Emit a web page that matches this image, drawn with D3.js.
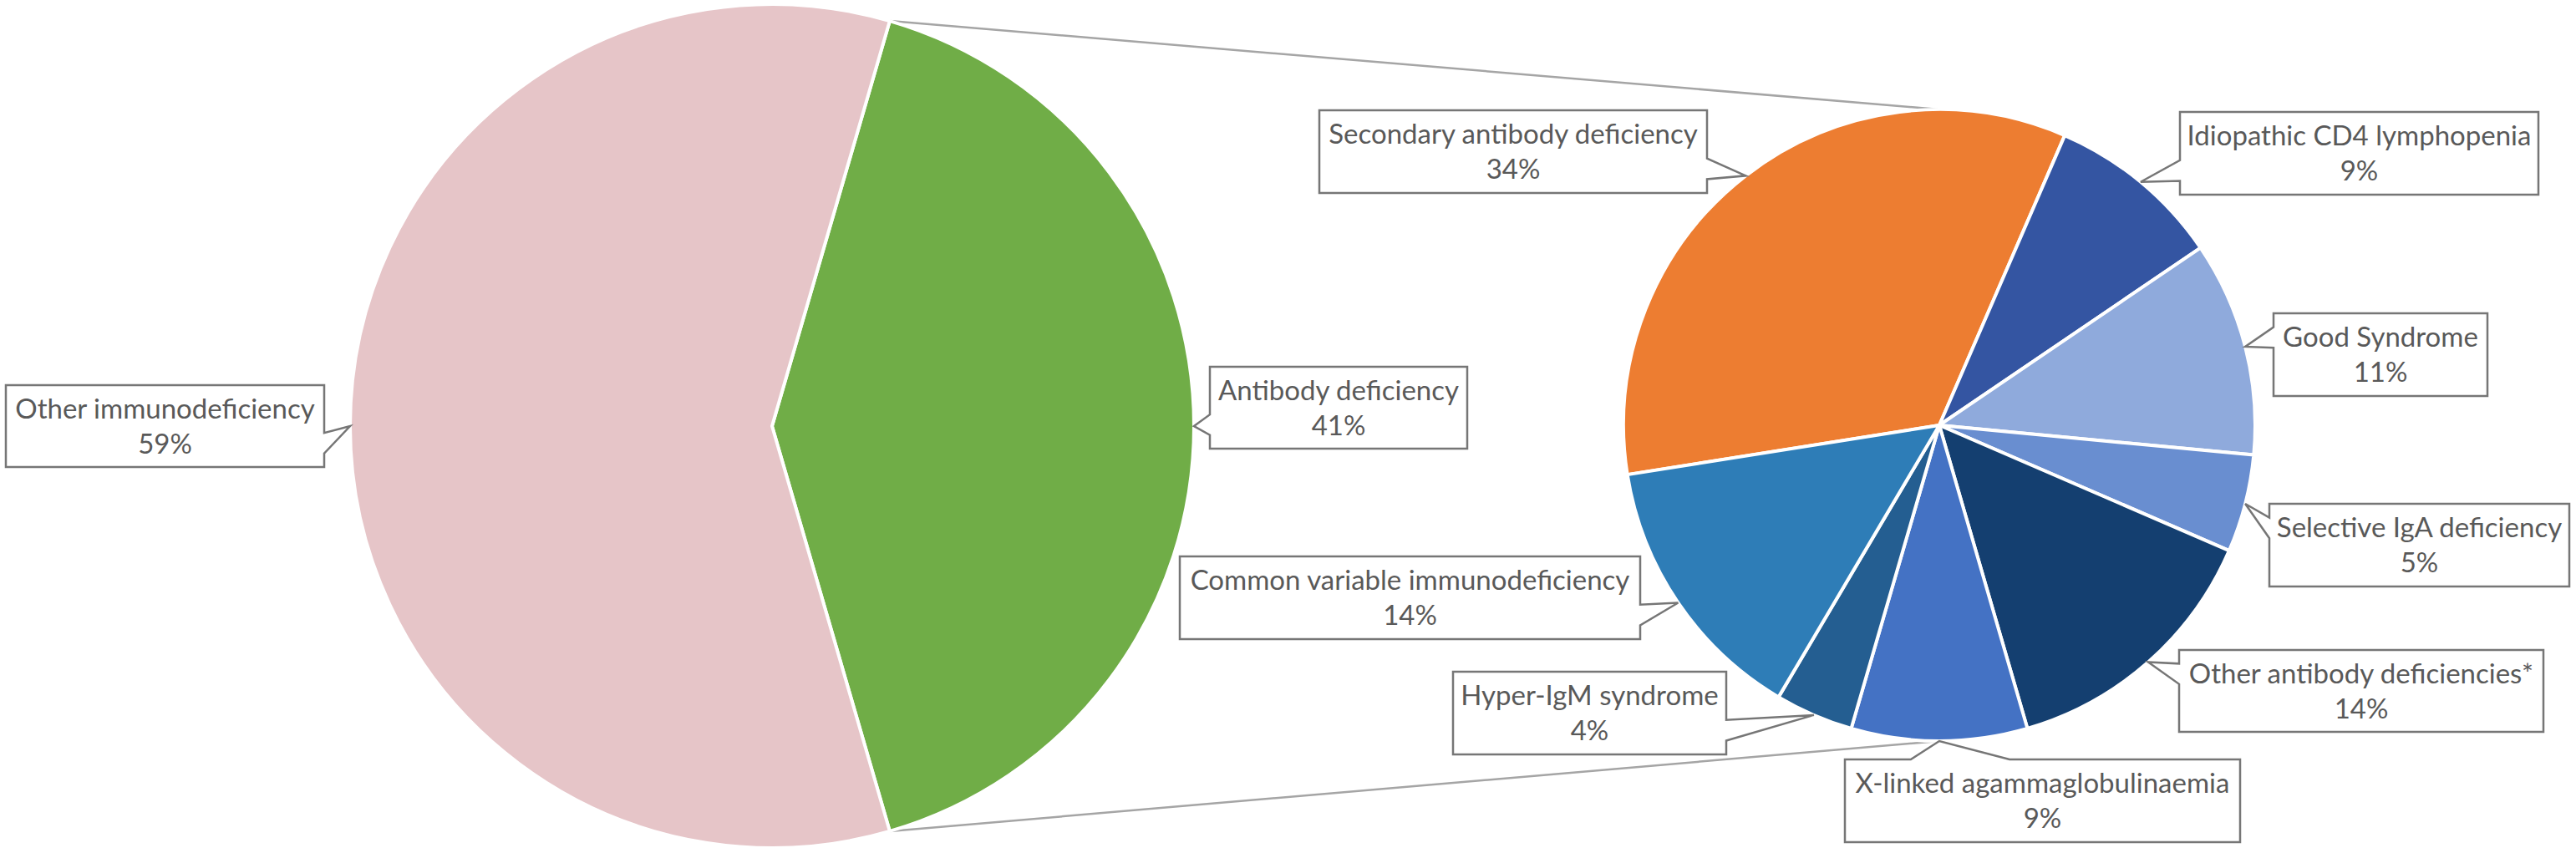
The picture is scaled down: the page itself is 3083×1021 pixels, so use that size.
<!DOCTYPE html>
<html lang="en">
<head>
    <meta charset="utf-8">
    <title>antibody_deficiency_pie_of_pie</title>
    <script type="text/javascript" src="https://cdn.jsdelivr.net/npm/d3@7"></script>
    <style type="text/css">
        body { margin: 0; background: #ffffff; }
        svg { display: block; }
    </style>
</head>
<body>

<script type="text/javascript">

    // Main pie: all immunodeficiency.
    var main_categories = ["Antibody deficiency", "Other immunodeficiency"];
    var main_values = [41, 59];
    var main_colors = ["#70ad47", "#e6c5c8"];

    // Second pie: breakdown of antibody deficiency, clockwise from the orange slice.
    var sub_categories = [
        "Secondary antibody deficiency",
        "Idiopathic CD4 lymphopenia",
        "Good Syndrome",
        "Selective IgA deficiency",
        "Other antibody deficiencies*",
        "X-linked agammaglobulinaemia",
        "Hyper-IgM syndrome",
        "Common variable immunodeficiency"
    ];
    var sub_values = [34, 9, 11, 5, 14, 9, 4, 14];
    var sub_colors = ["#ed7d31", "#3455a2", "#8faadc", "#698ed0", "#143f70", "#4472c4", "#245e91", "#2e7db7"];

    // Where each callout box sits (layout only).
    var label_boxes = {
        "Antibody deficiency":              {x: 1448, y: 439, w: 308, h: 98},
        "Other immunodeficiency":           {x: 7,    y: 461, w: 381, h: 98},
        "Secondary antibody deficiency":    {x: 1579, y: 132, w: 464, h: 99},
        "Idiopathic CD4 lymphopenia":       {x: 2609, y: 134, w: 429, h: 99},
        "Good Syndrome":                    {x: 2721, y: 375, w: 256, h: 99},
        "Selective IgA deficiency":         {x: 2716, y: 603, w: 359, h: 99},
        "Other antibody deficiencies*":     {x: 2608, y: 778, w: 436, h: 98},
        "X-linked agammaglobulinaemia":     {x: 2208, y: 909, w: 473, h: 99},
        "Hyper-IgM syndrome":               {x: 1739, y: 804, w: 327, h: 99},
        "Common variable immunodeficiency": {x: 1412, y: 666, w: 551, h: 99}
    };

    var width = 3083, height = 1021;
    var main_c = {x: 924, y: 510, r: 505};
    var sub_c = {x: 2321, y: 509, r: 378};

    var svg = d3.select("body")
        .append("svg")
        .attr("width", width)
        .attr("height", height);

    var main_data = main_categories.map((c, i) => ({name: c, value: main_values[i], color: main_colors[i]}));
    var sub_data = sub_categories.map((c, i) => ({name: c, value: sub_values[i], color: sub_colors[i]}));

    // Antibody slice is centred on 3 o'clock, as Excel does for pie-of-pie.
    var main_share = main_values[0] / d3.sum(main_values);
    var main_start = Math.PI / 2 - Math.PI * main_share;
    var main_arcs = d3.pie().sort(null).value(d => d.value)
        .startAngle(main_start).endAngle(main_start + 2 * Math.PI)(main_data);

    // X-linked slice is centred on 6 o'clock.
    var sub_total = d3.sum(sub_values);
    var xl = sub_categories.indexOf("X-linked agammaglobulinaemia");
    var before = d3.sum(sub_values.slice(0, xl)) + sub_values[xl] / 2;
    var sub_start = Math.PI - 2 * Math.PI * before / sub_total;
    var sub_arcs = d3.pie().sort(null).value(d => d.value)
        .startAngle(sub_start).endAngle(sub_start + 2 * Math.PI)(sub_data);

    function rim_point(c, a) {
        return [c.x + c.r * Math.sin(a), c.y - c.r * Math.cos(a)];
    }

    // Connector lines from the antibody slice edges to top/bottom of the second pie.
    var ab = main_arcs[0];
    var connectors = [
        [rim_point(main_c, ab.startAngle), [sub_c.x, sub_c.y - sub_c.r]],
        [rim_point(main_c, ab.endAngle), [sub_c.x, sub_c.y + sub_c.r]]
    ];
    svg.selectAll("line.connector")
        .data(connectors)
        .enter()
        .append("line")
        .attr("class", "connector")
        .attr("x1", d => d[0][0])
        .attr("y1", d => d[0][1])
        .attr("x2", d => d[1][0])
        .attr("y2", d => d[1][1])
        .attr("stroke", "#a5a5a5")
        .attr("stroke-width", 2.5);

    function draw_pie(arcs, c) {
        var arc = d3.arc().innerRadius(0).outerRadius(c.r);
        svg.append("g")
            .attr("transform", "translate(" + c.x + "," + c.y + ")")
            .selectAll("path")
            .data(arcs)
            .enter()
            .append("path")
            .attr("d", arc)
            .attr("fill", d => d.data.color)
            .attr("stroke", "#ffffff")
            .attr("stroke-width", 4)
            .attr("stroke-linejoin", "round");
    }
    draw_pie(main_arcs, main_c);
    draw_pie(sub_arcs, sub_c);

    // Excel style wedgeRectCallout outline.
    function callout_path(b, t) {
        var x = b.x, y = b.y, w = b.w, h = b.h;
        var dx = t[0] - (x + w / 2), dy = t[1] - (y + h / 2);
        var dq = dx * h / w;
        var p = d3.path();
        if (Math.abs(dy) > Math.abs(dq)) {
            var xb1 = x + w * (dx > 0 ? 7 : 2) / 12, xb2 = x + w * (dx > 0 ? 10 : 5) / 12;
            if (dy < 0) {
                p.moveTo(x, y); p.lineTo(xb1, y); p.lineTo(t[0], t[1]); p.lineTo(xb2, y);
                p.lineTo(x + w, y); p.lineTo(x + w, y + h); p.lineTo(x, y + h);
            } else {
                p.moveTo(x, y); p.lineTo(x + w, y); p.lineTo(x + w, y + h);
                p.lineTo(xb2, y + h); p.lineTo(t[0], t[1]); p.lineTo(xb1, y + h); p.lineTo(x, y + h);
            }
        } else {
            var yb1 = y + h * (dy > 0 ? 7 : 2) / 12, yb2 = y + h * (dy > 0 ? 10 : 5) / 12;
            if (dx < 0) {
                p.moveTo(x, y); p.lineTo(x + w, y); p.lineTo(x + w, y + h); p.lineTo(x, y + h);
                p.lineTo(x, yb2); p.lineTo(t[0], t[1]); p.lineTo(x, yb1);
            } else {
                p.moveTo(x, y); p.lineTo(x + w, y); p.lineTo(x + w, yb1); p.lineTo(t[0], t[1]);
                p.lineTo(x + w, yb2); p.lineTo(x + w, y + h); p.lineTo(x, y + h);
            }
        }
        p.closePath();
        return p.toString();
    }

    var pct = d3.format(".0%");

    function draw_labels(arcs, c, total) {
        var g = svg.append("g")
            .selectAll("g")
            .data(arcs)
            .enter()
            .append("g");
        g.append("path")
            .attr("d", d => callout_path(label_boxes[d.data.name], rim_point(c, (d.startAngle + d.endAngle) / 2)))
            .attr("fill", "#ffffff")
            .attr("stroke", "#767676")
            .attr("stroke-width", 2.5)
            .attr("stroke-linejoin", "miter");
        var txt = g.append("text")
            .attr("text-anchor", "middle")
            .attr("font-family", "Lato, 'Open Sans', sans-serif")
            .attr("font-size", 33)
            .attr("fill", "#595959");
        txt.append("tspan")
            .attr("x", d => label_boxes[d.data.name].x + label_boxes[d.data.name].w / 2)
            .attr("y", d => label_boxes[d.data.name].y + 40)
            .text(d => d.data.name);
        txt.append("tspan")
            .attr("x", d => label_boxes[d.data.name].x + label_boxes[d.data.name].w / 2)
            .attr("y", d => label_boxes[d.data.name].y + 82)
            .text(d => pct(d.data.value / total));
    }
    draw_labels(main_arcs, main_c, d3.sum(main_values));
    draw_labels(sub_arcs, sub_c, sub_total);

</script>
</body>
</html>
